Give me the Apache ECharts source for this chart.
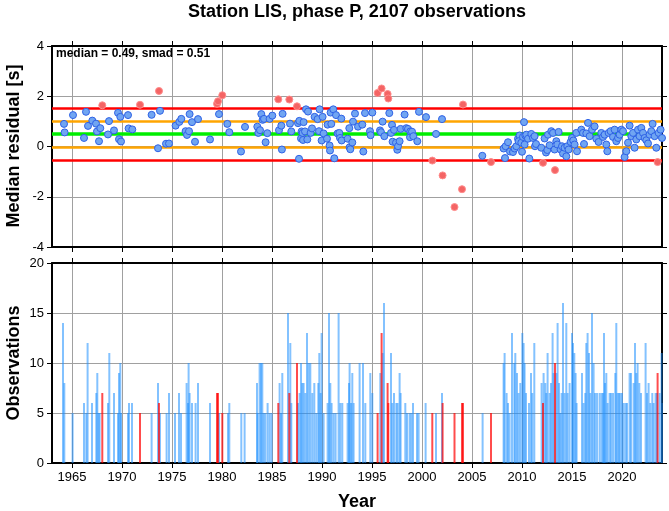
<!DOCTYPE html>
<html>
<head>
<meta charset="utf-8">
<script src="https://cdn.jsdelivr.net/npm/echarts@6/dist/echarts.min.js"></script>
<style>html,body{margin:0;padding:0;background:#fff;}#c{width:669px;height:511px;}</style>
</head>
<body>
<div id="c"></div>
<script>
// ---------- data ----------
const titleText = 'Station LIS, phase P, 2107 observations';
const MEDIAN = 0.49;
const SMAD = 0.51;

// event times (decimal year) and median residuals [s]
const resYears = [
 1964.2,1964.26,1965.1,1966.2,1966.4,1966.6,1967.03,1967.4,1967.5,1967.7,1967.83,1968.03,1968.6,1968.7,
 1969.2,1969.6,1969.7,1969.83,1969.9,1970.6,1970.66,1971.03,1971.8,1972.96,1973.6,1973.7,1973.8,1974.4,
 1974.7,1975.36,1975.73,1975.93,1976.36,1976.5,1976.7,1976.76,1977.0,1977.3,1977.6,
 1978.8,1979.5,1979.6,1979.7,1980.03,1980.53,1980.73,1981.9,1982.3,1983.53,1983.63,1983.8,1983.93,1984.06,
 1984.2,1984.36,1984.53,1984.76,1985.03,1985.63,1985.7,1985.93,1985.99,1986.06,1986.73,1986.8,1986.93,
 1987.5,1987.6,1987.7,1987.73,1987.9,1987.96,1988.06,1988.1,1988.16,1988.3,1988.4,1988.53,1988.6,1988.86,
 1989.0,1989.26,1989.56,1989.7,1989.76,1989.96,1990.06,1990.16,1990.5,1990.56,1990.76,1990.8,1990.86,
 1990.93,1991.13,1991.23,1991.4,1991.56,1991.73,1991.8,1991.93,1991.96,1992.56,1992.73,1992.76,1992.83,
 1993.03,1993.1,1993.3,1993.6,
 1994.03,1994.13,1994.3,1994.8,1994.86,1995.03,1995.56,1995.8,1995.9,1995.96,1996.06,1996.23,1996.56,
 1996.63,1996.73,1996.9,1997.0,1997.06,1997.2,1997.4,1997.53,1997.6,1997.76,1997.86,1998.26,1998.43,
 1998.6,1998.8,1998.83,1999.0,1999.13,1999.53,1999.7,2000.4,2001.03,2001.4,2002.0,2002.06,2003.25,
 2004.0,2004.1,2006.03,2006.9,2008.16,2008.3,2008.36,2008.6,2008.8,
 2009.1,2009.26,2009.43,2009.6,2009.76,2009.66,2009.93,2010.0,2010.2,2010.1,2010.33,2010.26,2010.43,
 2010.6,2010.73,2010.93,2011.1,2011.26,2011.3,2011.4,2011.93,2012.1,2012.26,2012.4,2012.53,2012.6,
 2012.76,2012.93,2013.1,2013.26,2013.3,2013.43,2013.53,2013.66,2013.86,2014.0,2014.1,2014.26,2014.43,
 2014.53,2014.66,2014.86,2015.0,2015.13,2015.26,2015.43,2015.5,2015.93,2016.1,2016.2,2016.43,2016.6,
 2016.76,2017.0,2017.26,2017.43,2017.66,2017.93,2018.1,2018.26,2018.43,2018.53,2018.66,2018.86,2019.1,
 2019.26,2019.43,2019.6,2019.76,2019.93,2020.1,2020.26,2020.43,2020.6,2020.76,2020.93,2021.1,2021.26,
 2021.43,2021.6,2021.76,2021.93,2022.1,2022.26,2022.43,2022.6,2022.76,2022.93,2023.06,2023.26,2023.43,
 2023.56,2023.66,2023.86,2024.0
];
const resValues = [
 0.90,0.56,1.25,0.34,1.38,0.82,1.03,0.91,0.60,0.21,0.73,1.64,0.48,1.01,
 0.64,1.34,0.29,1.18,0.20,1.25,0.72,0.68,1.66,1.26,-0.07,2.21,1.42,0.11,
 0.12,0.83,0.98,1.10,0.61,0.46,0.61,1.29,0.97,0.19,1.09,
 0.28,1.70,1.80,1.29,2.04,0.90,0.57,-0.20,0.78,0.79,0.54,0.65,1.29,1.06,
 1.10,0.17,0.53,1.10,1.23,1.88,0.65,0.83,-0.12,1.30,1.87,0.91,0.60,
 1.60,0.93,-0.49,1.02,0.32,0.60,0.54,0.26,0.97,0.60,1.48,0.28,1.39,0.54,
 0.72,1.18,1.09,0.61,1.48,0.24,1.18,0.52,0.31,0.87,0.04,-0.16,1.35,
 0.90,1.48,-0.47,1.25,0.52,0.54,0.34,1.11,0.24,0.31,0.73,-0.03,-0.11,
 0.16,0.99,1.31,0.79,
 0.87,-0.20,1.33,0.61,0.45,1.35,2.13,0.64,0.57,2.31,0.99,0.41,2.09,
 1.91,1.33,0.54,0.86,0.19,0.66,0.15,-0.13,0.01,0.21,0.70,1.27,0.73,
 0.70,0.37,0.60,0.59,0.41,0.21,1.38,1.17,-0.56,0.50,1.09,-1.15,-2.41,
 -1.70,1.67,-0.37,-0.62,-0.08,-0.46,0.01,0.17,-0.20,
 -0.22,-0.08,0.01,0.31,0.44,0.21,0.15,-0.21,0.97,0.38,0.44,0.08,0.47,
 0.31,-0.48,0.50,0.34,0.41,0.01,0.10,-0.05,-0.65,0.32,-0.24,-0.14,0.47,
 0.05,0.61,0.54,-0.12,-0.94,0.21,0.08,0.58,-0.12,0.01,-0.28,-0.05,-0.39,
 0.01,-0.12,0.18,0.34,0.24,0.08,0.54,-0.19,0.67,0.54,0.10,0.52,0.94,
 0.41,0.67,0.80,0.31,0.18,0.54,0.38,0.47,0.08,-0.19,0.54,0.61,0.38,
 0.67,0.21,0.34,0.47,0.67,0.61,-0.42,-0.19,0.15,0.83,0.41,0.54,-0.05,
 0.28,0.67,0.41,0.74,0.54,0.34,0.25,0.12,0.47,0.61,0.90,0.41,-0.05,
 -0.62,0.54,0.67,0.34
];

// observations per event (within the median +/- 2 smad band)
const obsYears = [
 1964.1,1964.23,1965.06,1966.2,1966.43,1966.56,1967.0,1967.43,1967.53,1967.66,1967.76,1968.6,1968.73,
 1969.2,1969.6,1969.7,1969.83,1969.9,1970.6,1970.7,1971.0,1972.96,1973.6,1973.8,1974.46,1974.7,1975.3,
 1975.7,1975.9,1976.46,1976.6,1976.66,1976.76,1977.0,1977.36,1977.6,1978.8,1979.7,1980.6,1980.73,
 1981.93,1982.26,
 1983.5,1983.56,1983.76,1983.9,1984.03,1984.16,1984.33,1984.56,1984.76,1984.96,1985.76,1985.9,1986.03,
 1986.6,1986.83,1986.93,1987.6,1987.76,1987.9,1988.03,1988.16,1988.33,1988.5,1988.66,1988.83,1989.03,
 1989.23,1989.43,1989.63,1989.73,1989.86,1989.96,1990.16,1990.56,1990.7,1990.83,1990.96,1991.16,1991.36,
 1991.66,1991.83,1992.03,1992.56,1992.7,1992.76,1992.9,1993.03,1993.16,1993.76,1994.1,1994.33,1994.83,
 1995.03,1995.83,1996.06,1996.2,1996.9,1997.03,1997.2,1997.43,1997.56,1997.76,1997.86,1998.33,1998.5,
 1998.76,1998.93,1999.1,1999.5,1999.66,2000.36,2001.4,2002.0,
 2006.06,2008.16,2008.26,2008.46,2008.6,2008.76,2009.0,2009.23,2009.33,2009.5,2009.66,2009.83,2010.03,
 2010.16,2010.26,2010.4,2010.7,2010.9,2011.03,2011.23,2011.96,2012.16,2012.33,2012.43,2012.56,2012.76,
 2012.9,2013.06,2013.16,2013.43,2013.56,2013.7,2013.83,2013.96,2014.1,2014.26,2014.43,2014.56,2014.76,
 2015.0,2015.1,2015.23,2015.36,2015.46,2016.0,2016.16,2016.33,2016.43,2016.56,2016.7,2016.83,2017.0,
 2017.16,2017.3,2017.5,2017.76,2017.96,2018.1,2018.2,2018.3,2018.43,2018.56,2018.76,2018.9,2019.1,
 2019.33,2019.43,2019.56,2019.7,2019.83,2020.0,2020.16,2020.36,2020.5,2020.76,2020.9,2021.16,2021.3,
 2021.43,2021.56,2021.73,2021.9,2022.36,2022.5,2022.66,2022.83,2023.03,2023.16,2023.36,2023.5,2023.76,
 2023.96,2024.06
];
const obsCounts = [
 14,8,5,6,5,12,6,7,9,5,5,6,11,
 7,5,9,10,5,5,6,6,5,8,5,5,7,5,
 7,5,8,6,10,7,6,6,8,6,5,5,6,
 5,5,
 8,5,10,10,10,5,5,6,5,5,8,5,9,
 15,12,6,6,7,10,8,8,7,13,10,10,7,
 8,5,8,11,7,13,5,6,15,8,6,5,5,
 15,6,6,6,8,10,6,9,6,10,10,6,9,
 7,9,11,16,11,6,7,6,6,9,7,6,5,
 5,5,6,5,5,6,5,7,
 5,10,11,7,6,5,13,10,11,9,7,8,13,
 12,10,7,6,9,7,12,8,9,8,7,11,7,
 8,13,9,9,14,8,5,7,16,7,14,7,8,
 13,12,11,9,6,9,6,7,12,13,11,7,15,
 10,7,7,7,7,7,13,8,9,6,7,7,7,
 9,14,7,7,7,7,6,6,6,9,9,8,12,
 9,10,8,7,12,7,8,6,7,6,7,7,7,
 11,6
];
// observation counts of outlier events
const outObsYears = [1968.03,1971.8,1973.7,1979.5,1979.6,1980.03,1985.63,1986.73,1987.5,1995.56,1995.96,
 1996.56,1996.63,2001.03,2002.06,2003.25,2004.0,2004.1,2006.9,2012.1,2013.3,2023.56];
const outObsCounts = [7,5,6,7,7,5,6,7,10,5,13,8,6,5,6,5,6,6,5,6,10,9];

const yearTicks = [1965,1970,1975,1980,1985,1990,1995,2000,2005,2010,2015,2020];
const resTicks = [-4,-2,0,2,4];
const obsTicks = [0,5,10,15,20];

// ---------- chart ----------
const FONT = '"Liberation Sans", Helvetica, Arial, sans-serif';
const chart = echarts.init(document.getElementById('c'), null, {renderer: 'canvas'});

const hi2 = MEDIAN + 2 * SMAD, lo2 = MEDIAN - 2 * SMAD;
const normalPts = [], outPts = [];
resYears.forEach((y, i) => {
  const v = resValues[i];
  (v > hi2 || v < lo2 ? outPts : normalPts).push([y, v]);
});

const gridLine = {show: true, lineStyle: {color: '#a0a0a0', width: 1}};
const frame = {show: true, onZero: false, lineStyle: {color: '#000', width: 2}};
const tick = (vals) => ({show: true, inside: false, length: 5, customValues: vals, lineStyle: {color: '#000', width: 1}});
const lbl = {color: '#000', fontFamily: FONT, fontSize: 13};

const xBase = {type: 'value', min: 1963, max: 2024, axisLine: frame};

const option = {
  animation: false,
  backgroundColor: '#fff',
  grid: [
    {left: 52, top: 46, width: 610, height: 201},
    {left: 52, top: 263, width: 610, height: 200}
  ],
  xAxis: [
    Object.assign({}, xBase, {gridIndex: 0, position: 'bottom', axisTick: tick(yearTicks),
      axisLabel: {show: false}, splitLine: gridLine}),
    Object.assign({}, xBase, {gridIndex: 0, position: 'top', axisTick: tick(yearTicks),
      axisLabel: {show: false}, splitLine: {show: false}}),
    Object.assign({}, xBase, {gridIndex: 1, position: 'bottom', axisTick: tick(yearTicks),
      axisLabel: Object.assign({customValues: yearTicks, margin: 8, formatter: (v) => String(v)}, lbl), splitLine: gridLine}),
    Object.assign({}, xBase, {gridIndex: 1, position: 'top', axisTick: tick(yearTicks),
      axisLabel: {show: false}, splitLine: {show: false}})
  ],
  yAxis: [
    {type: 'value', gridIndex: 0, position: 'left', min: resTicks[0], max: resTicks[resTicks.length - 1], interval: 2, axisLine: frame,
      axisTick: {show: true, length: 5, lineStyle: {color: '#000'}},
      axisLabel: Object.assign({margin: 8}, lbl), splitLine: gridLine},
    {type: 'value', gridIndex: 0, position: 'right', min: resTicks[0], max: resTicks[resTicks.length - 1], interval: 2, axisLine: frame,
      axisTick: {show: true, length: 5, lineStyle: {color: '#000'}}, axisLabel: {show: false}, splitLine: {show: false}},
    {type: 'value', gridIndex: 1, position: 'left', min: obsTicks[0], max: obsTicks[obsTicks.length - 1], interval: 5, axisLine: frame,
      axisTick: {show: true, length: 5, lineStyle: {color: '#000'}},
      axisLabel: Object.assign({margin: 8}, lbl), splitLine: gridLine},
    {type: 'value', gridIndex: 1, position: 'right', min: obsTicks[0], max: obsTicks[obsTicks.length - 1], interval: 5, axisLine: frame,
      axisTick: {show: true, length: 5, lineStyle: {color: '#000'}}, axisLabel: {show: false}, splitLine: {show: false}}
  ],
  series: [
    {
      type: 'line', xAxisIndex: 0, yAxisIndex: 0, data: [], z: 2, silent: true,
      markLine: {
        symbol: 'none', silent: true, label: {show: false}, animation: false,
        data: [
          {yAxis: hi2, lineStyle: {color: '#ff0000', width: 2.5, type: 'solid'}},
          {yAxis: lo2, lineStyle: {color: '#ff0000', width: 2.5, type: 'solid'}},
          {yAxis: MEDIAN + SMAD, lineStyle: {color: '#ffa500', width: 2.5, type: 'solid'}},
          {yAxis: MEDIAN - SMAD, lineStyle: {color: '#ffa500', width: 2.5, type: 'solid'}},
          {yAxis: MEDIAN, lineStyle: {color: '#00ee00', width: 3.5, type: 'solid'}}
        ]
      }
    },
    {
      type: 'scatter', xAxisIndex: 0, yAxisIndex: 0, data: normalPts, z: 5,
      symbol: 'circle', symbolSize: 7,
      itemStyle: {color: '#70a5f2', borderColor: '#2f62e6', borderWidth: 1, opacity: 1}
    },
    {
      type: 'scatter', xAxisIndex: 0, yAxisIndex: 0, data: outPts, z: 5,
      symbol: 'circle', symbolSize: 7,
      itemStyle: {color: '#f46464', borderColor: '#ff8c8c', borderWidth: 1, opacity: 1}
    },
    {
      type: 'bar', xAxisIndex: 2, yAxisIndex: 2, z: 3, barWidth: 2, barGap: '-100%',
      data: obsYears.map((y, i) => [y, obsCounts[i]]),
      itemStyle: {color: '#1e90ff', opacity: 0.55}
    },
    {
      type: 'bar', xAxisIndex: 2, yAxisIndex: 2, z: 4, barWidth: 2, barGap: '-100%',
      data: outObsYears.map((y, i) => [y, outObsCounts[i]]),
      itemStyle: {color: '#ff0000', opacity: 0.7}
    }
  ],
  graphic: [
    {type: 'text', x: 357, y: 12, style: {text: titleText, font: 'bold 18px ' + FONT, fill: '#000', align: 'center', verticalAlign: 'middle'}},
    {type: 'text', x: 56, y: 54, z: 10, style: {text: 'median = ' + MEDIAN.toFixed(2) + ', smad = ' + SMAD.toFixed(2), font: 'bold 12px ' + FONT, fill: '#000', align: 'left', verticalAlign: 'middle'}},
    {type: 'text', x: 14, y: 146, rotation: Math.PI / 2, style: {text: 'Median residual [s]', font: 'bold 18px ' + FONT, fill: '#000', align: 'center', verticalAlign: 'middle'}},
    {type: 'text', x: 14, y: 363, rotation: Math.PI / 2, style: {text: 'Observations', font: 'bold 18px ' + FONT, fill: '#000', align: 'center', verticalAlign: 'middle'}},
    {type: 'text', x: 357, y: 502, style: {text: 'Year', font: 'bold 18px ' + FONT, fill: '#000', align: 'center', verticalAlign: 'middle'}}
  ]
};
chart.setOption(option);
</script>
</body>
</html>
